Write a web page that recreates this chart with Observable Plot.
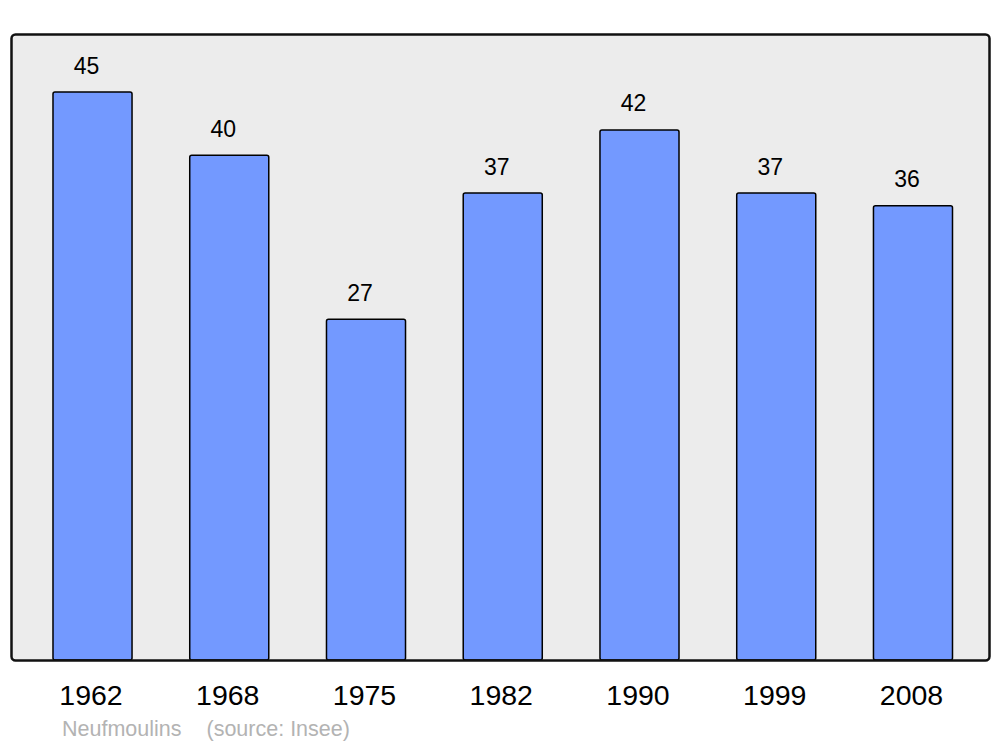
<!DOCTYPE html>
<html>
<head>
<meta charset="utf-8">
<script src="https://cdn.jsdelivr.net/npm/d3@7"></script>
<script src="https://cdn.jsdelivr.net/npm/@observablehq/plot@0.6"></script>
<style>
  body { margin: 0; background: #fff; font-family: "Liberation Sans", Arial, sans-serif; }
  #wrap { position: relative; width: 1000px; height: 747px; }
  #caption { position: absolute; left: 62px; top: 719px; font-size: 21.5px; line-height: 20px; color: #b3b3b3; white-space: pre; }
</style>
</head>
<body>
<div id="wrap">
  <div id="chart"></div>
  <div id="caption">Neufmoulins<span style="margin-left:25px">(source: Insee)</span></div>
</div>
<script>
const years = ["1962", "1968", "1975", "1982", "1990", "1999", "2008"];
const population = [45, 40, 27, 37, 42, 37, 36];
const data = years.map((y, i) => ({year: y, value: population[i]}));

const chart = Plot.plot({
  width: 1000,
  height: 715,
  marginTop: 34,
  marginBottom: 55,
  marginLeft: 11,
  marginRight: 11,
  style: {fontFamily: "Liberation Sans, Arial, sans-serif", background: "transparent"},
  x: {domain: years, paddingInner: 0.422, paddingOuter: 0.287, align: 0.535, round: false, label: null},
  y: {domain: [0, 49.6], axis: null},
  marks: [
    Plot.frame({fill: "#ececec", stroke: null, rx: 4}),
    Plot.barY(data, {x: "year", y: "value", fill: "#7399ff", stroke: "#000", strokeWidth: 1.5, rx: 2}),
    Plot.frame({stroke: "#111", strokeWidth: 2.5, rx: 4, fill: null}),
    Plot.text(data, {x: "year", y: "value", text: d => String(d.value), dy: -19, dx: -6.5, lineAnchor: "bottom", fontSize: 23, fill: "#000"}),
    Plot.axisX({tickSize: 0, tickPadding: 24, fontSize: 28.5, dx: -2, label: null, color: "#000"})
  ]
});
document.getElementById("chart").appendChild(chart);
</script>
</body>
</html>
